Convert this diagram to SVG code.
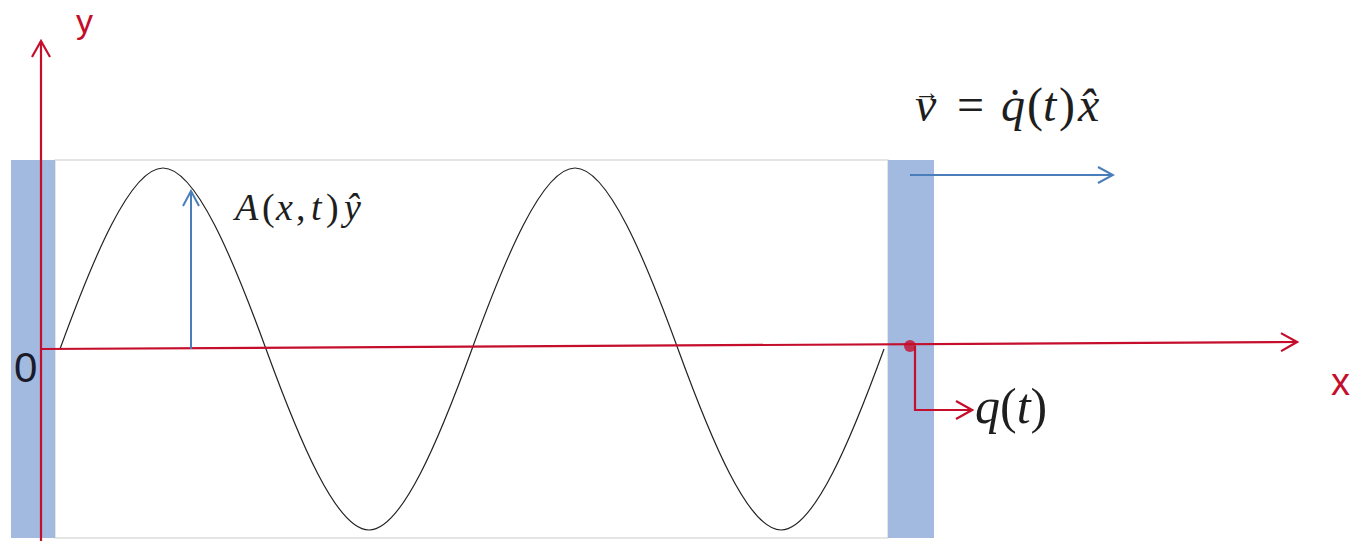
<svg xmlns="http://www.w3.org/2000/svg" width="1365" height="541" viewBox="0 0 1365 541">
<defs>
<style>
.bar{fill:#A2BAE0;}
.frame{fill:none;stroke:#D4D4D4;stroke-width:1.2;}
.red{stroke:#C40E2C;stroke-width:2.2;fill:none;}
.blue{stroke:#4A7EBB;stroke-width:2;fill:none;}
.wave{stroke:#222;stroke-width:1.2;fill:none;}
.lbl{font-family:"Liberation Sans",Arial,sans-serif;}
.math{font-family:"Liberation Serif","DejaVu Serif",serif;fill:#1e1e1e;}
.it{font-style:italic;}
</style>
<marker id="ahRed" viewBox="0 0 20 20" refX="18" refY="10" markerWidth="20" markerHeight="20" markerUnits="userSpaceOnUse" orient="auto">
<path d="M2,1 L18,10 L2,19" fill="none" stroke="#C40E2C" stroke-width="2.2"/>
</marker>
<marker id="ahBlue" viewBox="0 0 20 20" refX="18" refY="10" markerWidth="20" markerHeight="20" markerUnits="userSpaceOnUse" orient="auto">
<path d="M3,2 L18,10 L3,18" fill="none" stroke="#4A7EBB" stroke-width="2"/>
</marker>
</defs>
<rect width="1365" height="541" fill="#fff"/>
<g id="box">
<rect class="frame" x="55" y="160" width="833" height="378"/>
</g>
<g id="leftWall"><rect class="bar" x="11" y="160" width="44" height="378"/></g>
<g id="rightWall"><rect class="bar" x="888" y="160" width="46" height="378"/></g>
<g id="wave">
<path class="wave" d="M60,349 C92.8,259 130.2,168 163,168 C195.8,168 233.2,259 266,349 C298.8,439 336.2,530 369,530 C401.8,530 439.2,439 472,349 C504.8,259 542.2,168 575,168 C607.8,168 645.2,259 678,349 C710.8,439 748.2,530 781,530 C813.8,530 851.2,439 884,349"/>
</g>
<g id="connectors">
<line class="red" x1="41" y1="541" x2="41" y2="41" marker-end="url(#ahRed)"/>
<line class="red" x1="41" y1="349" x2="1297" y2="342" marker-end="url(#ahRed)"/>
<line class="blue" x1="191" y1="349" x2="191" y2="191" marker-end="url(#ahBlue)"/>
<line class="blue" x1="910" y1="175" x2="1113" y2="175" marker-end="url(#ahBlue)"/>
<polyline class="red" points="915,346 915,410 972,410" marker-end="url(#ahRed)"/>
<circle cx="910" cy="346" r="6" fill="#C40E2C" opacity="0.8"/>
</g>
<g id="labels">
<text class="lbl" x="76" y="33" font-size="34" fill="#C40E2C">y</text>
<text class="lbl" x="1331" y="395" font-size="38" fill="#C40E2C">x</text>
<text class="lbl" x="14" y="382" font-size="42" fill="#1a1a2a">0</text>
<text class="math" y="220" font-size="38"><tspan class="it" x="235">A</tspan><tspan x="262">(</tspan><tspan class="it" x="276">x</tspan><tspan x="296">,</tspan><tspan class="it" x="311">t</tspan><tspan x="326">)</tspan><tspan class="it" x="344">ŷ</tspan></text>
<text class="math" font-size="48"><tspan x="914" y="101" font-size="26">→</tspan><tspan class="it" x="915" y="121">v</tspan><tspan x="957" y="121">=</tspan><tspan class="it" x="1001" y="121">q̇</tspan><tspan x="1027" y="121">(</tspan><tspan class="it" x="1043" y="121">t</tspan><tspan x="1059" y="121">)</tspan><tspan class="it" x="1078" y="121">x̂</tspan></text>
<text class="math" x="975" y="423" font-size="50"><tspan class="it">q</tspan>(<tspan class="it">t</tspan>)</text>
</g>
</svg>
